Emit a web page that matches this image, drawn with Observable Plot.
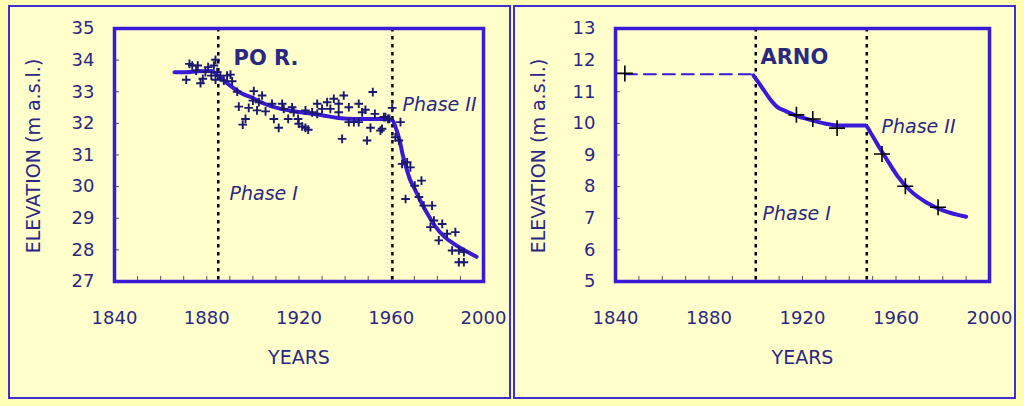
<!DOCTYPE html>
<html>
<head>
<meta charset="utf-8">
<script src="https://cdn.jsdelivr.net/npm/d3@7"></script>
<script src="https://cdn.jsdelivr.net/npm/@observablehq/plot@0.6"></script>
<style>
  html, body { margin: 0; padding: 0; }
  body { width: 1024px; height: 406px; background: #ffffb4; position: relative; overflow: hidden; font-family: "DejaVu Sans", sans-serif; }
  .panel { position: absolute; top: 5px; height: 394px; width: 503px; box-sizing: border-box; border: 2px solid #3d2fd2; background: #ffffcc; }
  .chart { position: absolute; top: 0; width: 512px; height: 406px; }
  .chart svg { max-width: none; }
</style>
</head>
<body>
<div class="panel" style="left:8px"></div>
<div class="panel" style="left:513px"></div>
<div class="chart" id="po" style="left:0px"></div>
<div class="chart" id="arno" style="left:512px"></div>
<script>
// ---- Tick labels ----
const xTicks = [1840, 1880, 1920, 1960, 2000];
const xMinorTicks = [1850, 1860, 1870, 1880, 1890, 1900, 1910, 1920, 1930, 1940, 1950, 1960, 1970, 1980, 1990];
const poYTicks = [27, 28, 29, 30, 31, 32, 33, 34, 35];
const arnoYTicks = [5, 6, 7, 8, 9, 10, 11, 12, 13];

// ---- PO R. : measured points ----
const poPointYears = [1871.1, 1872.5, 1873.7, 1876.1, 1875.4, 1877.3, 1878.3, 1879.4, 1880.6, 1882.0, 1883.1, 1883.8, 1884.5, 1883.8, 1885.9, 1887.4, 1888.8, 1890.3, 1891.0,
  1893.2, 1900.4, 1904.0, 1893.9, 1898.2, 1901.8, 1905.5, 1896.8, 1895.6, 1900.0, 1902.6, 1908.3, 1909.1, 1911.2, 1912.7, 1913.4, 1915.3, 1917.0, 1917.7, 1919.6, 1919.9, 1922.8, 1924.0, 1921.4,
  1922.8, 1925.7, 1927.9, 1927.9, 1930.0, 1932.2, 1933.6, 1935.1, 1937.2, 1939.4, 1937.2, 1938.7, 1941.6, 1941.6, 1943.8, 1945.9, 1945.9, 1947.4, 1948.8, 1949.5, 1951.0, 1952.0, 1952.9, 1955.3, 1956.0, 1957.5, 1958.6, 1960.4, 1959.2, 1956.8,
  1964.0, 1961.8, 1963.3, 1964.7, 1966.9, 1968.3, 1966.2, 1970.2, 1973.1, 1972.0, 1974.1, 1977.7, 1978.5, 1982.1, 1977.0, 1980.6, 1984.2, 1987.8, 1986.4, 1989.3, 1991.5, 1989.3, 1991.5];
const poPointElev = [33.38, 33.88, 33.83, 33.83, 33.67, 33.27, 33.41, 33.62, 33.78, 33.51, 33.83, 34.01, 33.62, 33.38, 33.51, 33.35, 33.51, 33.54, 33.33,
  33.00, 33.02, 32.88, 32.53, 32.49, 32.41, 32.38, 32.14, 31.96, 32.72, 32.67, 32.62, 32.14, 31.86, 32.62, 32.46, 32.14, 32.51, 32.35, 32.14, 31.99, 31.86, 31.80, 31.90,
  32.41, 32.35, 32.62, 32.30, 32.46, 32.67, 32.46, 32.78, 32.62, 32.88, 32.35, 31.51, 32.51, 32.04, 32.04, 32.62, 32.04, 32.35, 32.43, 31.46, 31.86, 32.99, 32.30, 31.77, 31.83, 32.20, 32.14, 32.49, 32.14, 32.20,
  32.04, 31.56, 31.46, 30.72, 30.77, 30.61, 29.61, 30.03, 30.19, 29.67, 29.40, 29.40, 28.93, 28.82, 28.72, 28.30, 28.51, 28.56, 27.98, 27.98, 27.93, 27.61, 27.61];

// ---- PO R. : trend line ----
const poLineYears = [1866, 1871, 1876, 1882, 1885, 1890, 1895, 1900, 1905, 1910, 1915, 1920, 1930, 1937, 1945, 1958, 1960.5, 1962, 1963.5, 1965, 1966.5, 1968, 1970, 1973, 1976, 1979, 1983, 1987, 1991, 1997];
const poLineElev = [33.62, 33.62, 33.65, 33.66, 33.5, 33.2, 32.95, 32.8, 32.62, 32.5, 32.42, 32.36, 32.26, 32.17, 32.14, 32.14, 32.1, 31.85, 31.5, 31.0, 30.6, 30.25, 29.95, 29.5, 29.1, 28.75, 28.42, 28.2, 28.02, 27.78];
const poPhaseBounds = [1885, 1960.5];

// ---- ARNO ----
const arnoPointYears = [1844, 1917.4, 1924.4, 1934.8, 1954, 1964, 1978];
const arnoPointElev = [11.58, 10.27, 10.14, 9.85, 9.03, 8.01, 7.35];
const arnoDashYears = [1844, 1899];
const arnoDashElev = [11.55, 11.55];
const arnoLineYears = [1899, 1903, 1906, 1909, 1913, 1917.5, 1923, 1930, 1936, 1947, 1949, 1953, 1957, 1960.5, 1966, 1973, 1980, 1990];
const arnoLineElev = [11.52, 11.1, 10.78, 10.53, 10.38, 10.24, 10.12, 9.99, 9.93, 9.93, 9.72, 9.22, 8.75, 8.35, 7.88, 7.5, 7.25, 7.05];
const arnoPhaseBounds = [1900, 1947.5];

const zip = (xs, ys) => xs.map((x, i) => ({x, y: ys[i]}));

const BLUE = "#3a1ad8";
const NAVY = "#1b1870";
const TEXT = "#2b2884";
const FONT = "DejaVu Sans, sans-serif";

function panel({marginLeft, marginRight, yDomain, yTicks, points, pointColor, pointR, pointW, line, dash, bounds, titleLabel, phase1, phase2, ylabelOffset}) {
  const W = 512, H = 406, mt = 28, mb = 125;
  const fw = W - marginLeft - marginRight, fh = H - mt - mb;
  const marks = [
    Plot.ruleX(xMinorTicks, {insetTop: fh - 5, stroke: "#555", strokeWidth: 1}),
    Plot.ruleY(yTicks.slice(1, -1), {insetRight: fw - 5, stroke: "#555", strokeWidth: 1}),
    Plot.ruleX(bounds, {stroke: "black", strokeWidth: 2.5, strokeDasharray: "3.5,4.5"})
  ];
  if (dash) marks.push(Plot.line(dash, {x: "x", y: "y", stroke: BLUE, strokeWidth: 2, strokeDasharray: "12,7"}));
  marks.push(
    Plot.line(line, {x: "x", y: "y", stroke: BLUE, strokeWidth: 4, curve: "monotone-x"}),
    Plot.dot(points, {x: "x", y: "y", symbol: "plus", r: pointR, stroke: pointColor, strokeWidth: pointW}),
    Plot.axisX({ticks: xTicks, tickSize: 0, tickPadding: 30, tickFormat: d => String(d), label: null, fontSize: 18, fill: TEXT}),
    Plot.axisY({ticks: yTicks, tickSize: 0, tickPadding: 20, label: null, fontSize: 18, fill: TEXT}),
    Plot.text(["YEARS"], {frameAnchor: "bottom", dy: 82, fontSize: 19, fill: TEXT}),
    Plot.text(["ELEVATION (m a.s.l.)"], {frameAnchor: "left", textAnchor: "middle", rotate: -90, dx: ylabelOffset, dy: 1, fontSize: 19, fill: TEXT}),
    Plot.text([titleLabel], {x: "x", y: "y", text: "t", textAnchor: "start", fontSize: 21, fontWeight: "bold", fill: TEXT}),
    Plot.text([phase1, phase2], {x: "x", y: "y", text: "t", textAnchor: "start", fontSize: 19, fontStyle: "italic", fill: TEXT}),
    Plot.frame({stroke: BLUE, strokeWidth: 3.5})
  );
  return Plot.plot({
    width: W, height: H, marginLeft, marginRight, marginTop: mt, marginBottom: mb,
    style: {background: "transparent", fontFamily: FONT, fontSize: "18px", color: TEXT, overflow: "visible"},
    x: {domain: [1840, 2000]},
    y: {domain: yDomain},
    marks
  });
}

document.getElementById("po").append(panel({
  marginLeft: 114, marginRight: 29, yDomain: [27, 35], yTicks: poYTicks,
  points: zip(poPointYears, poPointElev), pointColor: NAVY, pointR: 2.9, pointW: 1.9,
  line: zip(poLineYears, poLineElev), dash: null, bounds: poPhaseBounds,
  titleLabel: {x: 1891.6, y: 34.05, t: "PO R."},
  phase1: {x: 1889.9, y: 29.78, t: "Phase I"},
  phase2: {x: 1964.9, y: 32.57, t: "Phase II"},
  ylabelOffset: -81
}));

document.getElementById("arno").append(panel({
  marginLeft: 103, marginRight: 35, yDomain: [5, 13], yTicks: arnoYTicks,
  points: zip(arnoPointYears, arnoPointElev), pointColor: "black", pointR: 5.2, pointW: 1.6,
  line: zip(arnoLineYears, arnoLineElev), dash: zip(arnoDashYears, arnoDashElev), bounds: arnoPhaseBounds,
  titleLabel: {x: 1902, y: 12.08, t: "ARNO"},
  phase1: {x: 1902.9, y: 7.15, t: "Phase I"},
  phase2: {x: 1953.8, y: 9.9, t: "Phase II"},
  ylabelOffset: -77
}));
</script>
</body>
</html>
